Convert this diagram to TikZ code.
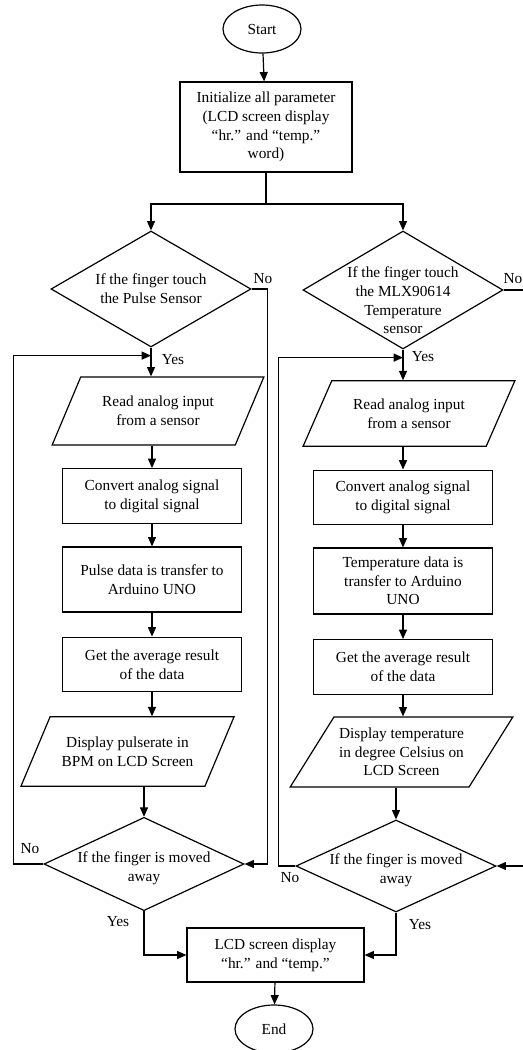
\documentclass[tikz,border=0pt]{standalone}
\usepackage{fontspec}
\setmainfont{Liberation Serif}
\usetikzlibrary{shapes.geometric,arrows.meta,calc}

\begin{document}
\begin{tikzpicture}[
		x=0.75pt, y=-0.75pt,
		line width=0.9pt,
		every node/.style={font=\fontsize{11.5}{14}\selectfont, align=center},
		flow/.style={-{Triangle[length=7pt,width=6pt]}},
		terminal/.style={draw, ellipse, minimum width=58.5pt, minimum height=36pt, inner sep=0pt},
		process/.style={draw, rectangle, inner sep=1pt, minimum width=134pt, minimum height=41pt},
		io/.style={draw, trapezium, trapezium left angle=55, trapezium right angle=125, trapezium stretches=true, inner sep=0pt},
		decision/.style={draw, diamond, inner sep=0pt, minimum width=150pt}
		]
		
		\useasboundingbox (0,0) rectangle (523,1050);
		\clip (0,0) rectangle (523,1050);
		
		% Start and initialisation
		\node[terminal] (start) at (262,29) {Start};
		\node[process, minimum width=129pt, minimum height=67.5pt] (init) at (266,127)
			{Initialize all parameter\\(LCD screen display\\``hr.'' and ``temp.''\\word)};
		\coordinate (split) at (266,204);
		
		% Pulse sensor branch
		\node[decision, minimum height=87pt, label={center:If the finger touch\\the Pulse Sensor}] (dl1) at (151,289) {};
		\node[io, minimum width=159pt, minimum height=51pt] (pl1) at (158,411) {Read analog input\\from a sensor};
		\node[process] (cl1) at (152,496) {Convert analog signal\\to digital signal};
		\node[process, minimum height=48.75pt] (tl1) at (152,579.5) {Pulse data is transfer to\\Arduino UNO};
		\node[process] (al1) at (152,664.5) {Get the average result\\of the data};
		\node[io, trapezium left angle=50, trapezium right angle=130, minimum width=160pt, minimum height=52pt] (ol1) at (127.5,751.5) {Display pulserate in\\BPM on LCD Screen};
		\node[decision, minimum height=70pt, label={[yshift=-3pt]center:If the finger is moved\\away}] (ml1) at (144,864) {};
		
		% Temperature sensor branch
		\node[decision, minimum height=88.5pt, label={[yshift=-8pt]center:If the finger touch\\the MLX90614\\Temperature\\sensor}] (dr1) at (403,290) {};
		\node[io, minimum width=159pt, minimum height=49pt] (pr1) at (409,413.5) {Read analog input\\from a sensor};
		\node[process] (cr1) at (403,497.5) {Convert analog signal\\to digital signal};
		\node[process, minimum height=49.5pt] (tr1) at (403,581) {Temperature data is\\transfer to Arduino\\UNO};
		\node[process] (ar1) at (403,667) {Get the average result\\of the data};
		\node[io, trapezium left angle=50, trapezium right angle=130, minimum width=167pt, minimum height=52.5pt] (or1) at (401.5,752) {Display temperature\\in degree Celsius on\\LCD Screen};
		\node[decision, minimum height=69pt, label={[yshift=-3pt]center:If the finger is moved\\away}] (mr1) at (396,866) {};
		
		% Final display and end
		\node[process, minimum width=132.75pt, minimum height=40.5pt] (fin) at (275.5,955) {LCD screen display\\``hr.'' and ``temp.''};
		\node[terminal] (endn) at (274,1029) {End};
		
		% Connectors
		\draw[flow] (start) -- (init);
		\draw (init) -- (split);
		\draw[flow] (split) -| (dl1.north);
		\draw[flow] (split) -| (dr1.north);
		
		\draw[flow] (dl1.south) -- (dl1.south |- pl1.north);
		\draw[flow] (pl1.south -| cl1.north) -- (cl1.north);
		\draw[flow] (cl1) -- (tl1);
		\draw[flow] (tl1) -- (al1);
		\draw[flow] (al1.south) -- (al1.south |- ol1.north);
		\draw[flow] (ol1.south -| ml1.north) -- (ml1.north);
		
		\draw[flow] (dr1.south) -- (dr1.south |- pr1.north);
		\draw[flow] (pr1.south -| cr1.north) -- (cr1.north);
		\draw[flow] (cr1) -- (tr1);
		\draw[flow] (tr1) -- (ar1);
		\draw[flow] (ar1.south) -- (ar1.south |- or1.north);
		\draw[flow] (or1.south -| mr1.north) -- (mr1.north);
		
		% No branches and loops back
		\coordinate (jl1) at ($(dl1.south)+(0,8)$);
		\coordinate (jr1) at ($(dr1.south)+(0,8)$);
		\draw[flow] (dl1.east) -| ($(ml1.east)+(23,0)$) -- (ml1.east);
		\draw[flow] (dr1.east) -| ($(mr1.east)+(35,0)$) -- (mr1.east);
		\draw[flow] (ml1.west) -- ++(-30,0) |- (jl1);
		\draw[flow] (mr1.west) -- ++(-17,0) |- (jr1);
		
		\draw[flow] (ml1.south) |- (fin.west);
		\draw[flow] (mr1.south) |- (fin.east);
		\draw[flow] (fin) -- (endn);
		
		% Yes / No labels
		\node (nol1) at (263,279) {No};
		\node (yesl1) at (173,360) {Yes};
		\node (nor1) at (513,279) {No};
		\node (yesr1) at (423,357) {Yes};
		\node (nol2) at (30,849) {No};
		\node (yesl2) at (118,922) {Yes};
		\node (nor2) at (290,878) {No};
		\node (yesr2) at (420,925) {Yes};
		
	\end{tikzpicture}
\end{document}
